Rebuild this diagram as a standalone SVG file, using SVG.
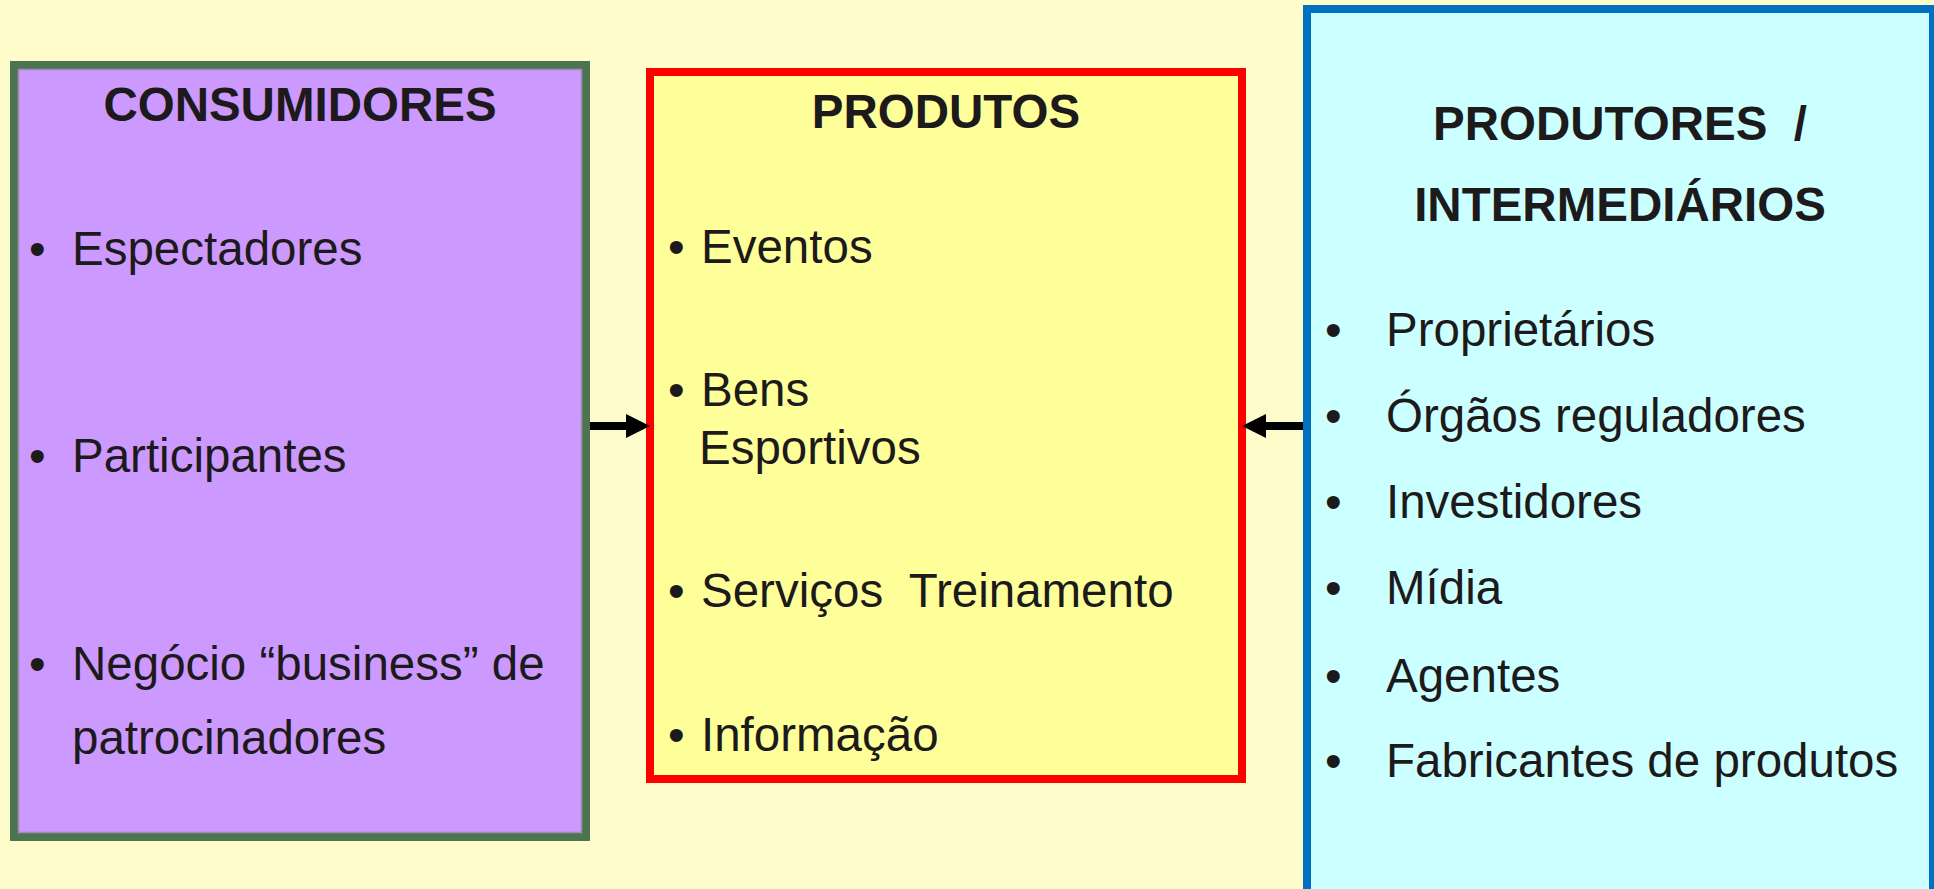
<svg xmlns="http://www.w3.org/2000/svg" width="1934" height="889" viewBox="0 0 1934 889">
<style>
text{font-family:"Liberation Sans",Arial,sans-serif;fill:#1c1a1a;font-size:47.5px;white-space:pre}
.h{font-weight:bold;text-anchor:middle}
</style>
<defs>
<marker id="ah" markerUnits="userSpaceOnUse" markerWidth="24" markerHeight="24" refX="4" refY="12" orient="auto">
<path d="M0,0 L24,12 L0,24 z" fill="#000"/>
</marker>
</defs>
<rect width="1934" height="889" fill="#fffccc"/>
<g id="consumidores">
<rect x="14" y="65" width="572" height="772" fill="#cc99ff" stroke="#4d7451" stroke-width="8"/>
<rect x="18.5" y="69.5" width="563" height="763" fill="none" stroke="#9f8cb6" stroke-width="1.5"/>
<text class="h" x="300" y="121">CONSUMIDORES</text>
<text x="29" y="265">•</text><text x="72" y="265">Espectadores</text>
<text x="29" y="472">•</text><text x="72" y="472">Participantes</text>
<text x="29" y="680">•</text><text x="72" y="680">Negócio “business” de</text>
<text x="72" y="754">patrocinadores</text>
</g>
<g id="produtos">
<rect x="650" y="72" width="592" height="707" fill="#ffff99" stroke="#ff0000" stroke-width="8"/>
<text class="h" x="946" y="128">PRODUTOS</text>
<text x="668" y="263">•</text><text x="701" y="263">Eventos</text>
<text x="668" y="406">•</text><text x="701" y="406">Bens</text>
<text x="699" y="464">Esportivos</text>
<text x="668" y="607">•</text><text x="701" y="607">Serviços  Treinamento</text>
<text x="668" y="751">•</text><text x="701" y="751">Informação</text>
</g>
<g id="produtores">
<rect x="1307" y="9" width="626" height="900" fill="#ccffff" stroke="#0070c0" stroke-width="8"/>
<text class="h" x="1620" y="140">PRODUTORES  /</text>
<text class="h" x="1620" y="221">INTERMEDIÁRIOS</text>
<text x="1325" y="346">•</text><text x="1386" y="346">Proprietários</text>
<text x="1325" y="432">•</text><text x="1386" y="432">Órgãos reguladores</text>
<text x="1325" y="518">•</text><text x="1386" y="518">Investidores</text>
<text x="1325" y="604">•</text><text x="1386" y="604">Mídia</text>
<text x="1325" y="692">•</text><text x="1386" y="692">Agentes</text>
<text x="1325" y="777">•</text><text x="1386" y="777">Fabricantes de produtos</text>
</g>
<g id="connectors" stroke="#000" stroke-width="8" fill="none">
<line x1="590" y1="426" x2="630" y2="426" marker-end="url(#ah)"/>
<line x1="1303" y1="426" x2="1262" y2="426" marker-end="url(#ah)"/>
</g>
</svg>
